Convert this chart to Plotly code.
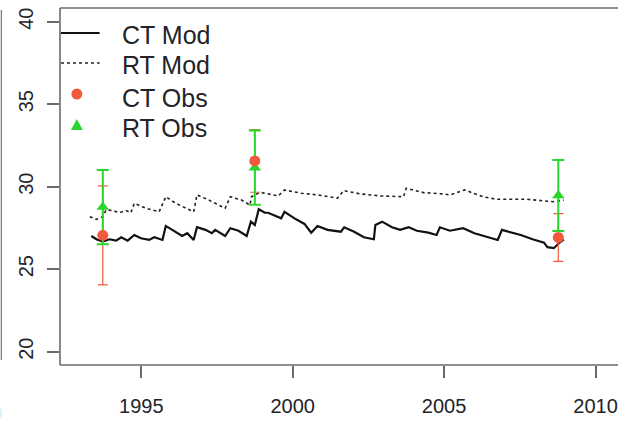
import plotly.graph_objects as go

# ---- data ----
ct_mod_year = [1993.35, 1993.52, 1993.73, 1993.95, 1994.17, 1994.34, 1994.55, 1994.77, 1994.99,
               1995.26, 1995.43, 1995.70, 1995.81, 1996.02, 1996.35, 1996.52, 1996.73, 1996.84,
               1997.12, 1997.33, 1997.44, 1997.77, 1997.94, 1998.21, 1998.48, 1998.62, 1998.75,
               1998.88, 1999.08, 1999.19, 1999.62, 1999.73, 2000.06, 2000.39, 2000.61, 2000.82,
               2001.15, 2001.59, 2001.70, 2002.03, 2002.35, 2002.68, 2002.73, 2002.95, 2003.12,
               2003.28, 2003.55, 2003.83, 2004.10, 2004.48, 2004.75, 2004.86, 2005.19, 2005.63,
               2006.00, 2006.44, 2006.77, 2006.91, 2007.26, 2007.53, 2007.92, 2008.30, 2008.41,
               2008.62, 2008.79, 2008.95]
ct_mod_val = [27.01, 26.81, 26.67, 26.81, 26.73, 26.93, 26.73, 27.07, 26.87,
              26.77, 26.93, 26.77, 27.62, 27.38, 27.01, 27.18, 26.77, 27.54,
              27.38, 27.18, 27.38, 27.01, 27.48, 27.33, 27.01, 27.88, 27.68,
              28.63, 28.42, 28.42, 28.08, 28.48, 28.08, 27.74, 27.21, 27.62,
              27.38, 27.27, 27.54, 27.27, 26.93, 26.81, 27.68, 27.88, 27.68,
              27.54, 27.38, 27.54, 27.33, 27.21, 27.07, 27.54, 27.33, 27.48,
              27.18, 26.93, 26.77, 27.38, 27.21, 27.07, 26.81, 26.61, 26.33,
              26.27, 26.57, 26.81]

rt_mod_year = [1993.30, 1993.52, 1993.73, 1993.84, 1994.06, 1994.28, 1994.50, 1994.66, 1994.77,
               1995.15, 1995.59, 1995.81, 1996.14, 1996.73, 1996.84, 1997.23, 1997.77, 1997.94,
               1998.31, 1998.59, 1998.64, 1998.86, 1998.97, 1999.52, 1999.73, 2000.28, 2000.82,
               2001.48, 2001.68, 2002.24, 2002.90, 2003.66, 2003.75, 2004.32, 2004.97, 2005.19,
               2005.68, 2006.28, 2006.71, 2007.15, 2007.70, 2008.24, 2008.62, 2008.95]
rt_mod_val = [28.18, 28.02, 28.18, 28.59, 28.55, 28.42, 28.55, 28.42, 28.99,
              28.69, 28.48, 29.39, 28.99, 28.48, 29.50, 29.19, 28.69, 29.39,
              29.19, 28.89, 29.39, 29.60, 29.64, 29.44, 29.80, 29.60, 29.50,
              29.30, 29.76, 29.56, 29.44, 29.39, 29.90, 29.64, 29.56, 29.50,
              29.80, 29.39, 29.24, 29.24, 29.24, 29.15, 29.09, 29.19]

obs_year = [1993.73, 1998.75, 2008.77]
ct_obs_val = [27.05, 31.56, 26.92]
ct_obs_err = [3.00, 1.90, 1.45]
rt_obs_val = [28.76, 31.15, 29.47]
rt_obs_err = [2.25, 2.25, 2.15]

legend_labels = ["CT Mod", "RT Mod", "CT Obs", "RT Obs"]
x_ticks = [1995, 2000, 2005, 2010]
y_ticks = [20, 25, 30, 35, 40]

# ---- styles ----
RED = "#f25a3e"
GREEN = "#2bd62b"
AXIS = "#6a6a6a"
TXT = "#232328"
FONT = "Liberation Sans, Arial, sans-serif"

W, H = 618, 422
L, T, B = 60, 8, 57


def px(x):
    return (x - L) / (W - L)


def py(y):
    return (H - B - y) / (H - B - T)


fig = go.Figure()

fig.add_trace(go.Scatter(x=ct_mod_year, y=ct_mod_val, mode="lines",
                         line=dict(color="#111111", width=2.2), showlegend=False))
fig.add_trace(go.Scatter(x=rt_mod_year, y=rt_mod_val, mode="lines",
                         line=dict(color="#222222", width=1.6, dash="dot"), showlegend=False))
# red error bars (under green)
fig.add_trace(go.Scatter(x=obs_year, y=ct_obs_val, mode="markers",
                         marker=dict(color="rgba(0,0,0,0)", size=1),
                         error_y=dict(type="data", array=ct_obs_err, color=RED,
                                      thickness=1.2, width=5),
                         showlegend=False))
# green obs with error bars
fig.add_trace(go.Scatter(x=obs_year, y=rt_obs_val, mode="markers",
                         marker=dict(color=GREEN, size=11, symbol="triangle-up"),
                         error_y=dict(type="data", array=rt_obs_err, color=GREEN,
                                      thickness=2, width=6),
                         showlegend=False))
# red markers on top
fig.add_trace(go.Scatter(x=obs_year, y=ct_obs_val, mode="markers",
                         marker=dict(color=RED, size=11, symbol="circle"),
                         showlegend=False))

shapes = []
# plot frame (top, left, bottom); right side is outside the picture
shapes.append(dict(type="line", xref="paper", yref="paper", x0=0, x1=1.05, y0=1, y1=1,
                   line=dict(color=AXIS, width=1.6)))
shapes.append(dict(type="line", xref="paper", yref="paper", x0=0, x1=1.05, y0=0, y1=0,
                   line=dict(color=AXIS, width=1.6)))
shapes.append(dict(type="line", xref="paper", yref="paper", x0=0, x1=0, y0=0, y1=1,
                   line=dict(color=AXIS, width=1.6)))
# neighbour panel edge on far left
shapes.append(dict(type="line", xref="paper", yref="paper", x0=px(0.8), x1=px(0.8),
                   y0=py(10), y1=py(360), line=dict(color="#777777", width=1.2)))
shapes.append(dict(type="circle", xref="paper", yref="paper", x0=px(-4), x1=px(1.5),
                   y0=py(408), y1=py(418), fillcolor="#d4f4f8", line=dict(width=0)))

# manual legend (no box)
shapes.append(dict(type="line", xref="paper", yref="paper", x0=px(61), x1=px(100),
                   y0=py(33), y1=py(33), line=dict(color="#111111", width=2.2)))
shapes.append(dict(type="line", xref="paper", yref="paper", x0=px(61), x1=px(100),
                   y0=py(63), y1=py(63), line=dict(color="#222222", width=1.6, dash="dot")))
shapes.append(dict(type="circle", xref="paper", yref="paper", x0=px(71.5), x1=px(82.5),
                   y0=py(88.5), y1=py(99.5), fillcolor=RED, line=dict(width=0)))
tri = "M {} {} L {} {} L {} {} Z".format(px(71), py(130), px(83), py(130), px(77), py(119))
shapes.append(dict(type="path", xref="paper", yref="paper", path=tri,
                   fillcolor=GREEN, line=dict(width=0)))

annotations = []
for lab, yc in zip(legend_labels, [35, 65, 98, 128]):
    annotations.append(dict(text=lab, xref="paper", yref="paper", x=px(121), y=py(yc),
                            xanchor="left", yanchor="middle", showarrow=False,
                            font=dict(family=FONT, size=25, color=TXT)))

fig.update_layout(
    width=W, height=H,
    margin=dict(l=L, r=0, t=T, b=B),
    paper_bgcolor="white", plot_bgcolor="white",
    shapes=shapes, annotations=annotations,
    showlegend=False,
    xaxis=dict(range=[1992.317, 2010.576], tickvals=x_ticks,
               ticktext=[str(v) for v in x_ticks],
               showgrid=False, zeroline=False, showline=False,
               ticks="outside", ticklen=12, tickwidth=1.6, tickcolor=AXIS,
               tickfont=dict(family=FONT, size=20, color=TXT),
               ticklabeloverflow="allow", ticklabelstandoff=11),
    yaxis=dict(range=[19.19, 40.83], tickvals=y_ticks,
               ticktext=[str(v) for v in y_ticks],
               showgrid=False, zeroline=False, showline=False,
               ticks="outside", ticklen=12, tickwidth=1.6, tickcolor=AXIS,
               tickangle=-90,
               tickfont=dict(family=FONT, size=20, color=TXT),
               ticklabelstandoff=6),
)

fig.write_html("out.html")
